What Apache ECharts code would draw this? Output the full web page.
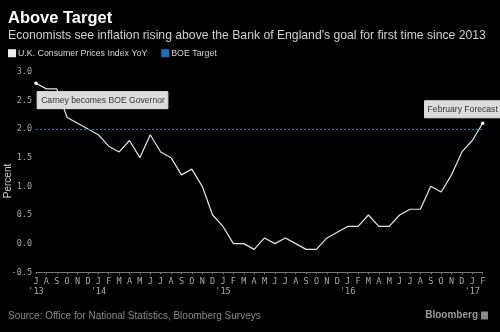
<!DOCTYPE html>
<html>
<head>
<meta charset="utf-8">
<script src="https://cdn.jsdelivr.net/npm/echarts@6/dist/echarts.min.js"></script>
<style>
html,body{margin:0;padding:0;background:#000;}
#chart{width:500px;height:332px;}
</style>
</head>
<body>
<div id="chart"></div>
<script>
// ---- data ----
const periods = [
  '2013-07','2013-08','2013-09','2013-10','2013-11','2013-12',
  '2014-01','2014-02','2014-03','2014-04','2014-05','2014-06','2014-07','2014-08','2014-09','2014-10','2014-11','2014-12',
  '2015-01','2015-02','2015-03','2015-04','2015-05','2015-06','2015-07','2015-08','2015-09','2015-10','2015-11','2015-12',
  '2016-01','2016-02','2016-03','2016-04','2016-05','2016-06','2016-07','2016-08','2016-09','2016-10','2016-11','2016-12',
  '2017-01','2017-02'
];
const monthTicks = [
  'J','A','S','O','N','D',
  'J','F','M','A','M','J','J','A','S','O','N','D',
  'J','F','M','A','M','J','J','A','S','O','N','D',
  'J','F','M','A','M','J','J','A','S','O','N','D',
  'J','F'
];
const yearTicks = {'2013-07':"'13",'2014-01':"'14",'2015-01':"'15",'2016-01':"'16",'2017-01':"'17"};
const cpiYoY = [
  2.8,2.7,2.7,2.2,2.1,2.0,
  1.9,1.7,1.6,1.8,1.5,1.9,1.6,1.5,1.2,1.3,1.0,0.5,
  0.3,0.0,0.0,-0.1,0.1,0.0,0.1,0.0,-0.1,-0.1,0.1,0.2,
  0.3,0.3,0.5,0.3,0.3,0.5,0.6,0.6,1.0,0.9,1.2,1.6,
  1.8,2.1
];
const boeTarget = 2.0;
const yTicks = {min:-0.5, max:3.0, step:0.5};
const annotations = [
  {period:'2013-07', text:'Carney becomes BOE Governor'},
  {period:'2017-02', text:'February Forecast'}
];

const chart = echarts.init(document.getElementById('chart'), null, {renderer:'canvas'});
const sans = 'Liberation Sans, Arial, sans-serif';
const mono = 'DejaVu Sans Mono, monospace';

const option = {
  backgroundColor:'#000',
  animation:false,
  title:[
    {text:'Above Target', left:8, top:10, padding:0,
     textStyle:{color:'#fff', fontSize:16.5, fontWeight:'bold', fontFamily:sans}},
    {text:"Economists see inflation rising above the Bank of England's goal for first time since 2013",
     left:8, top:30, padding:0,
     textStyle:{color:'#cfcfcf', fontSize:12.2, fontWeight:'normal', fontFamily:sans}},
    {text:'Source: Office for National Statistics, Bloomberg Surveys', left:8, top:311, padding:0,
     textStyle:{color:'#8a8a8a', fontSize:10, fontWeight:'normal', fontFamily:sans}},
    {text:'Bloomberg', right:22, top:310.5, padding:0,
     textStyle:{color:'#9a9a9a', fontSize:10, fontWeight:'bold', fontFamily:sans}}
  ],
  graphic:[
    {type:'rect', right:12, top:311.5, shape:{width:7, height:8}, style:{fill:'#8a8a8a'}}
  ],
  legend:{
    left:8, top:48.7, padding:0, itemWidth:8, itemHeight:8, itemGap:14, icon:'rect',
    textStyle:{color:'#d6d6d6', fontSize:8.8, fontFamily:sans, padding:[0,0,0,-3]},
    data:['U.K. Consumer Prices Index YoY','BOE Target']
  },
  grid:{left:36, right:17.3, top:71.7, bottom:59.7, containLabel:false, outerBoundsMode:'none'},
  xAxis:{
    type:'category', data:periods, boundaryGap:false,
    axisLine:{show:true, onZero:false, lineStyle:{color:'#777', width:1}},
    axisTick:{show:true, length:2, interval:0, lineStyle:{color:'#777'}},
    axisLabel:{interval:0, margin:5, color:'#aaa', fontSize:8.5, fontFamily:mono, lineHeight:9.5,
      formatter:(v, i) => monthTicks[i] + (yearTicks[v] ? '\n' + yearTicks[v] : '')},
    splitLine:{show:false}
  },
  yAxis:{
    type:'value', min:yTicks.min, max:yTicks.max, interval:yTicks.step,
    axisLine:{show:false}, axisTick:{show:false}, splitLine:{show:false},
    axisLabel:{color:'#aaa', fontSize:8.5, fontFamily:mono, margin:4, formatter:v => v.toFixed(1)},
    name:'Percent', nameLocation:'middle', nameRotate:90, nameGap:22.5, nameMoveOverlap:false,
    nameTextStyle:{color:'#cfcfcf', fontSize:10, fontFamily:sans, padding:[0,18,0,0]}
  },
  series:[
    {
      name:'U.K. Consumer Prices Index YoY', type:'line', data:cpiYoY,
      symbol:'none', itemStyle:{color:'#eeeeee'},
      lineStyle:{color:'#e6e6e6', width:1.2},
      markPoint:{
        z:6, symbol:'circle', symbolSize:3.5, itemStyle:{color:'#fff'},
        data:[
          {coord:[annotations[0].period, cpiYoY[periods.indexOf(annotations[0].period)]],
           label:{show:true, formatter:annotations[0].text, position:'inside', offset:[66.5,17],
             color:'#333', fontSize:8.6, fontFamily:sans, backgroundColor:'#dcdcdc',
             borderColor:'#f0f0f0', borderWidth:0.5, padding:[4,3,4,4]}},
          {coord:[annotations[1].period, cpiYoY[periods.indexOf(annotations[1].period)]],
           label:{show:true, formatter:annotations[1].text, position:'inside', offset:[-20,-14],
             color:'#333', fontSize:8.6, fontFamily:sans, backgroundColor:'#dcdcdc',
             borderColor:'#f0f0f0', borderWidth:0.5, padding:[4,3,4,3]}}
        ]
      }
    },
    {
      name:'BOE Target', type:'line', data:[], itemStyle:{color:'#1f6fc0'},
      markLine:{
        silent:true, symbol:'none', label:{show:false},
        lineStyle:{color:'#2a78c8', type:[2,2], width:1},
        data:[{yAxis:boeTarget}]
      }
    }
  ]
};
chart.setOption(option);
</script>
</body>
</html>
